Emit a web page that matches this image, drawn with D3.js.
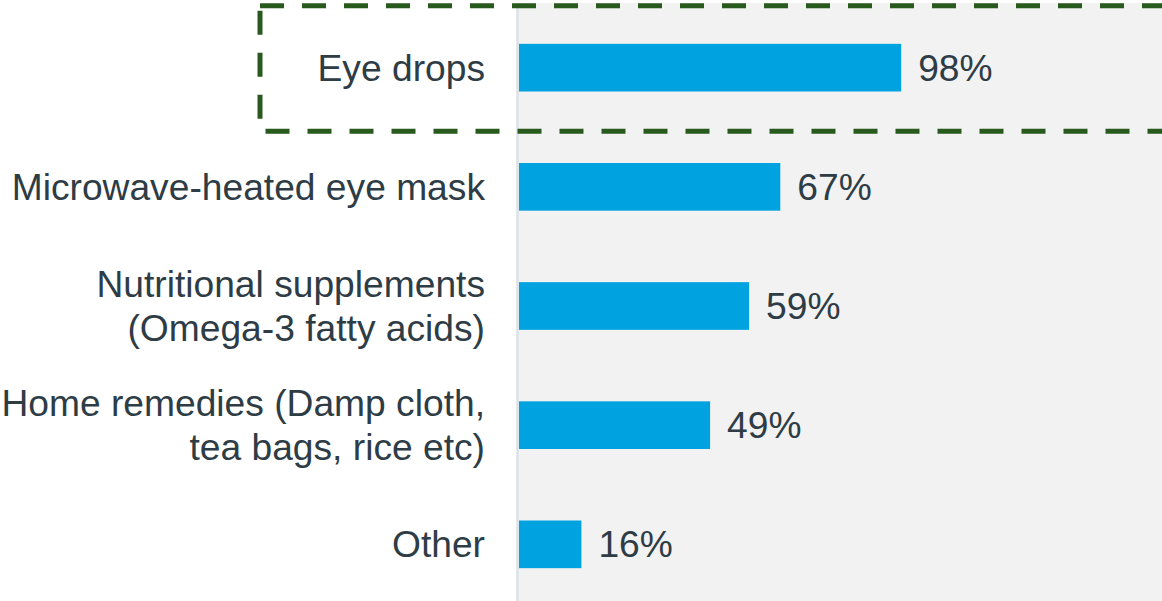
<!DOCTYPE html>
<html>
<head>
<meta charset="utf-8">
<script src="https://cdn.jsdelivr.net/npm/d3@7"></script>
<style>
  body { margin: 0; background: #fff; }
  svg { display: block; }
  text { font-family: "Liberation Sans", Arial, sans-serif; }
</style>
</head>
<body>
<script>
//Chart data
const categories = [
  "Eye drops",
  "Microwave-heated eye mask",
  "Nutritional supplements\n(Omega-3 fatty acids)",
  "Home remedies (Damp cloth,\ntea bags, rice etc)",
  "Other"
];
const values = [98, 67, 59, 49, 16];
const highlighted = ["Eye drops"];

const width = 1162, height = 601;

const svg = d3.select("body").append("svg")
  .attr("width", width)
  .attr("height", height);

//Scales
const x = d3.scaleLinear()
  .domain([0, 100])
  .range([519, 909]);

const y = d3.scaleBand()
  .domain(categories)
  .range([20, 592])
  .paddingInner(0.6)
  .paddingOuter(0.2);

//Gray plot panel
svg.append("rect")
  .attr("x", 517)
  .attr("y", 3)
  .attr("width", width - 517)
  .attr("height", height - 3)
  .attr("fill", "#f2f2f2");

//Axis line
svg.append("line")
  .attr("x1", 517.5).attr("x2", 517.5)
  .attr("y1", 3).attr("y2", height)
  .attr("stroke", "#dbe2e7")
  .attr("stroke-width", 2.5);

const data = categories.map((c, i) => ({cat: c, value: values[i]}));

//Bars
svg.append("g")
  .selectAll("rect")
  .data(data)
  .enter()
  .append("rect")
    .attr("x", x(0))
    .attr("y", d => y(d.cat))
    .attr("width", d => x(d.value) - x(0))
    .attr("height", y.bandwidth())
    .attr("fill", "#00a2df");

//Value labels
svg.append("g")
  .selectAll("text")
  .data(data)
  .enter()
  .append("text")
    .attr("x", d => x(d.value) + 17)
    .attr("y", d => y(d.cat) + y.bandwidth() / 2)
    .attr("dy", "0.35em")
    .attr("font-size", "37.2px")
    .attr("fill", "#2e3c46")
    .text(d => d.value + "%");

//Category labels (may wrap onto two lines)
const lineH = 43.5;
const labels = svg.append("g")
  .selectAll("text")
  .data(data)
  .enter()
  .append("text")
    .attr("text-anchor", "end")
    .attr("font-size", "37.2px")
    .attr("fill", "#2e3c46")
    .attr("y", d => y(d.cat) + y.bandwidth() / 2);

labels.each(function(d) {
  const lines = d.cat.split("\n");
  const t = d3.select(this);
  const cy = y(d.cat) + y.bandwidth() / 2;
  lines.forEach((ln, i) => {
    t.append("tspan")
      .attr("x", 485)
      .attr("y", cy + (i - (lines.length - 1) / 2) * lineH)
      .attr("dy", "0.35em")
      .text(ln);
  });
});

//Dashed highlight box
highlighted.forEach(c => {
  const cy = y(c) + y.bandwidth() / 2;
  svg.append("rect")
    .attr("x", 260)
    .attr("y", cy - 62)
    .attr("width", 960)
    .attr("height", 125.5)
    .attr("fill", "none")
    .attr("stroke", "#275a1c")
    .attr("stroke-width", 5)
    .attr("stroke-dasharray", "24,18");
});
</script>
</body>
</html>
